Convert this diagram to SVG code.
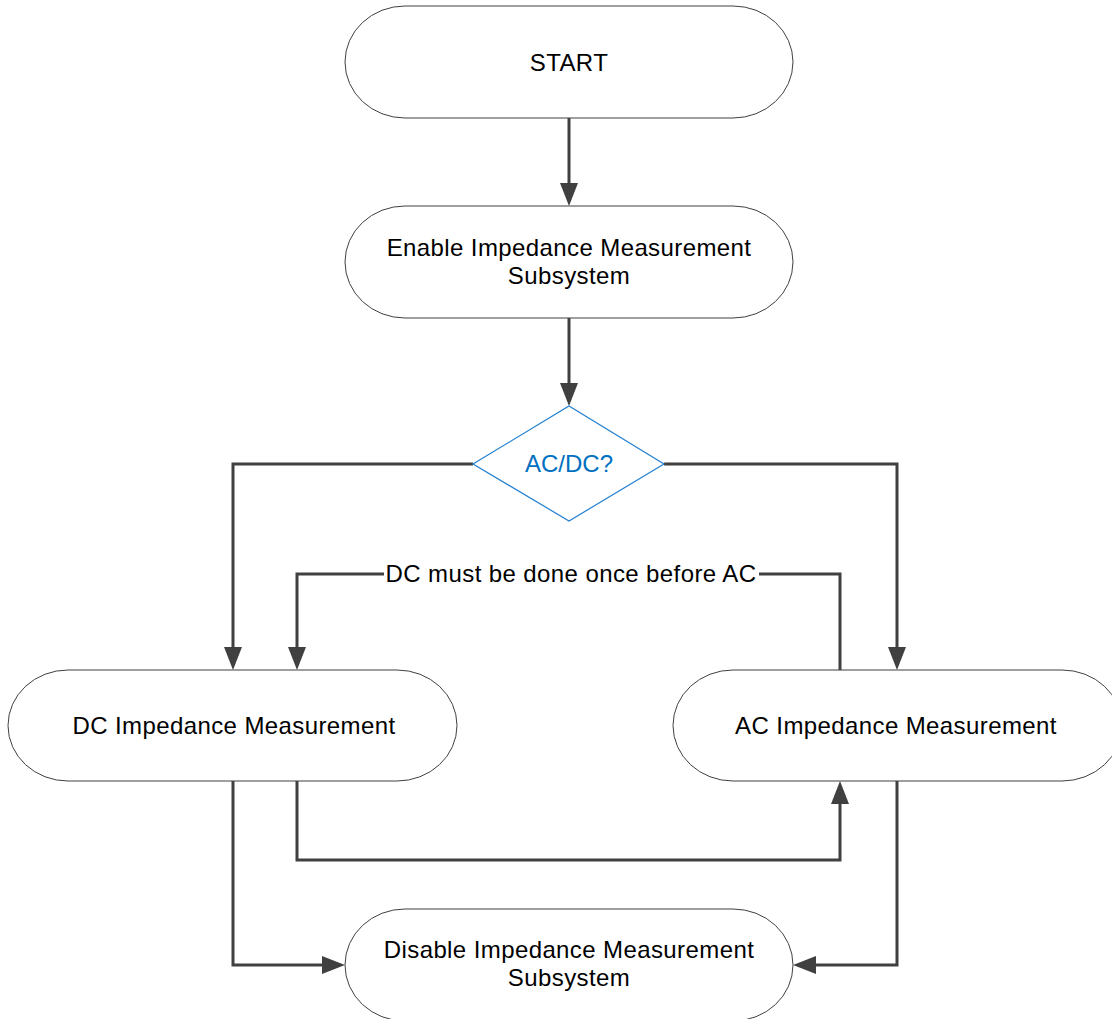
<svg xmlns="http://www.w3.org/2000/svg" width="1112" height="1019" viewBox="0 0 1112 1019">
<style>
.node{fill:#fff;stroke:#404040;stroke-width:1}
.txt{font-family:"Liberation Sans",Arial,sans-serif;font-size:24px;fill:#000;text-anchor:middle;letter-spacing:0.4px}
.dec{fill:#fff;stroke:#1F7FD0;stroke-width:1.2}
.dtxt{font-family:"Liberation Sans",Arial,sans-serif;font-size:24px;fill:#0070C0;text-anchor:middle}
.conn{fill:none;stroke:#404040;stroke-width:3}
</style>
<defs>
<marker id="arr" markerUnits="userSpaceOnUse" markerWidth="24" markerHeight="18" refX="13" refY="9" orient="auto">
<path d="M0,0 L23,9 L0,18 z" fill="#404040"/>
</marker>
</defs>
<rect width="1112" height="1019" fill="#fff"/>
<g id="connectors">
<path class="conn" d="M569,118 V196" marker-end="url(#arr)"/>
<path class="conn" d="M569,318 V396" marker-end="url(#arr)"/>
<path class="conn" d="M473,464 H233 V660" marker-end="url(#arr)"/>
<path class="conn" d="M664,464 H897 V660" marker-end="url(#arr)"/>
<path class="conn" d="M840,670 V574 H297 V660" marker-end="url(#arr)"/>
<path class="conn" d="M297,781 V860 H840 V791" marker-end="url(#arr)"/>
<path class="conn" d="M233,781 V965 H335" marker-end="url(#arr)"/>
<path class="conn" d="M897,781 V965 H803" marker-end="url(#arr)"/>
<rect x="384" y="560" width="375" height="28" fill="#fff"/>
<text class="txt" x="571" y="582">DC must be done once before AC</text>
</g>
<g id="start">
<rect class="node" x="345" y="6" width="448" height="112" rx="60" ry="56"/>
<text class="txt" x="569" y="71">START</text>
</g>
<g id="enable">
<rect class="node" x="345" y="206" width="448" height="112" rx="60" ry="56"/>
<text class="txt" x="569" y="256">Enable Impedance Measurement</text>
<text class="txt" x="569" y="284">Subsystem</text>
</g>
<g id="acdc">
<polygon class="dec" points="569,406 664,464 569,521 473,464"/>
<text class="dtxt" x="569" y="472">AC/DC?</text>
</g>
<g id="dc">
<rect class="node" x="8" y="670" width="449" height="111" rx="60" ry="55.5"/>
<text class="txt" x="234" y="734">DC Impedance Measurement</text>
</g>
<g id="ac">
<rect class="node" x="673" y="670" width="449" height="111" rx="60" ry="55.5"/>
<text class="txt" x="896" y="734">AC Impedance Measurement</text>
</g>
<g id="disable">
<rect class="node" x="345" y="909" width="448" height="112" rx="60" ry="56"/>
<text class="txt" x="569" y="958">Disable Impedance Measurement</text>
<text class="txt" x="569" y="986">Subsystem</text>
</g>
</svg>
